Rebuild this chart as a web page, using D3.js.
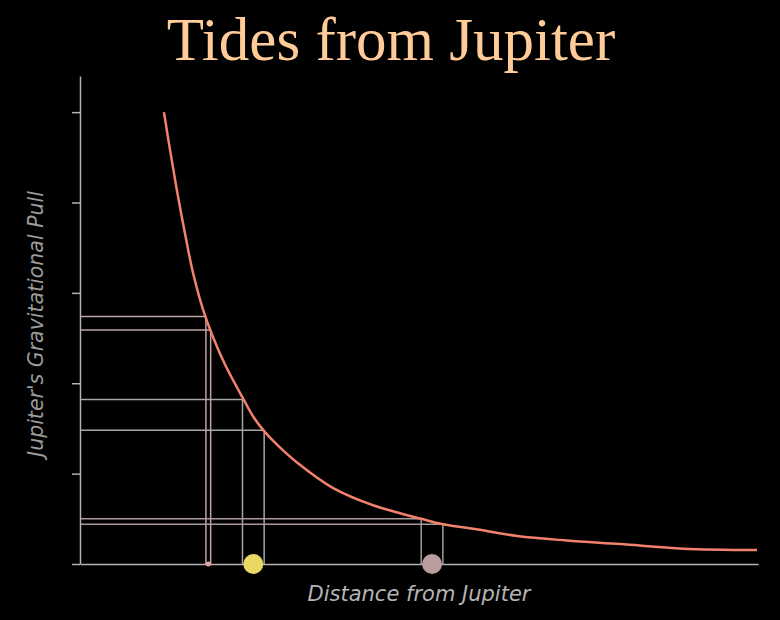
<!DOCTYPE html>
<html>
<head>
<meta charset="utf-8">
<script src="https://cdn.jsdelivr.net/npm/d3@7"></script>
<style>
  html, body { margin: 0; padding: 0; background: #000; }
  svg { display: block; }
</style>
</head>
<body>
<svg id="chart" width="780" height="620"></svg>
<script>
// ---- data (distance in arbitrary units, pull in arbitrary units) ----
const curveDistance = [1.24, 1.33, 1.43, 1.55, 1.67, 1.82, 1.96, 2.14, 2.41, 2.56, 2.72, 2.91, 3.21, 3.74, 4.33, 5.04, 5.36, 5.81, 6.46, 7.19, 7.98, 8.91, 10.0];
const curvePull     = [5.00, 4.58, 4.14, 3.66, 3.22, 2.81, 2.52, 2.21, 1.83, 1.63, 1.47, 1.32, 1.12, 0.84, 0.65, 0.50, 0.44, 0.39, 0.31, 0.26, 0.22, 0.17, 0.155];

const moonNames    = ["Io", "Europa", "Ganymede"];
const moonNear     = [1.86, 2.40, 5.04];
const moonFar      = [1.93, 2.72, 5.36];
const moonPullNear = [2.74, 1.82, 0.50];
const moonPullFar  = [2.59, 1.48, 0.44];
const moonSize     = [2.5, 10, 10];
const moonColor    = ["#e8a4a0", "#e8d862", "#b99d9f"];
const guideColor   = ["#bfa3a3", "#a6a6a6", "#a89a9a"];

const yTicks = [0, 1, 2, 3, 4, 5];

const titleText = "Tides from Jupiter";
const xLabel = "Distance from Jupiter";
const yLabel = "Jupiter's Gravitational Pull";

// ---- layout ----
const svg = d3.select("#chart");
svg.append("rect").attr("width", 780).attr("height", 620).attr("fill", "#000");

const x = d3.scaleLinear().domain([0, 10]).range([80, 757]);
const y = d3.scaleLinear().domain([0, 5.4]).range([564, 76]);

const axisColor = "#b2b2b2";

// title
svg.append("text")
  .attr("x", 391).attr("y", 60)
  .attr("text-anchor", "middle")
  .attr("font-family", "'Liberation Serif', 'Times New Roman', serif")
  .attr("font-size", 61)
  .attr("fill", "#ffcc99")
  .text(titleText);

// guide lines
const moons = moonNames.map((n, i) => ({
  name: n, near: moonNear[i], far: moonFar[i],
  pNear: moonPullNear[i], pFar: moonPullFar[i],
  r: moonSize[i], color: moonColor[i], guide: guideColor[i]
}));

const guides = svg.append("g").attr("fill", "none").attr("stroke-width", 1.5);
moons.forEach(m => {
  [[m.near, m.pNear], [m.far, m.pFar]].forEach(([d, p]) => {
    guides.append("line")
      .attr("x1", x(0)).attr("x2", x(d))
      .attr("y1", y(p)).attr("y2", y(p))
      .attr("stroke", m.guide);
    guides.append("line")
      .attr("x1", x(d)).attr("x2", x(d))
      .attr("y1", y(p)).attr("y2", y(0))
      .attr("stroke", m.guide);
  });
});

// axes
const yAxis = d3.axisLeft(y).tickValues(yTicks).tickFormat("").tickSize(8).tickSizeOuter(0);
const gy = svg.append("g").attr("transform", `translate(${x(0)},0)`).call(yAxis);
gy.selectAll("path, line").attr("stroke", axisColor).attr("stroke-width", 1.5);

const xAxis = d3.axisBottom(d3.scaleLinear().domain([0, 10]).range([80, 758])).ticks(0).tickSizeOuter(0);
const gx = svg.append("g").attr("transform", `translate(0,${y(0)})`).call(xAxis);
gx.selectAll("path, line").attr("stroke", axisColor).attr("stroke-width", 1.5);
gx.selectAll("text").remove();

// curve
const pts = curveDistance.map((d, i) => [d, curvePull[i]]);
const line = d3.line().x(d => x(d[0])).y(d => y(d[1])).curve(d3.curveCatmullRom.alpha(0.5));
svg.append("path")
  .datum(pts)
  .attr("d", line)
  .attr("fill", "none")
  .attr("stroke", "#f2826c")
  .attr("stroke-width", 2.5);

// moons
svg.append("g").selectAll("circle")
  .data(moons)
  .join("circle")
  .attr("cx", m => x((m.near + m.far) / 2))
  .attr("cy", y(0))
  .attr("r", m => m.r)
  .attr("fill", m => m.color);

// axis labels
svg.append("text")
  .attr("x", 419).attr("y", 601)
  .attr("text-anchor", "middle")
  .attr("font-family", "'DejaVu Sans', Verdana, sans-serif")
  .attr("font-style", "italic")
  .attr("font-size", 21)
  .attr("fill", "#b4b4b4")
  .text(xLabel);

svg.append("text")
  .attr("transform", "translate(43,324) rotate(-90)")
  .attr("text-anchor", "middle")
  .attr("font-family", "'DejaVu Sans', Verdana, sans-serif")
  .attr("font-style", "italic")
  .attr("font-size", 20.5)
  .attr("fill", "#9c9c9c")
  .text(yLabel);
</script>
</body>
</html>
